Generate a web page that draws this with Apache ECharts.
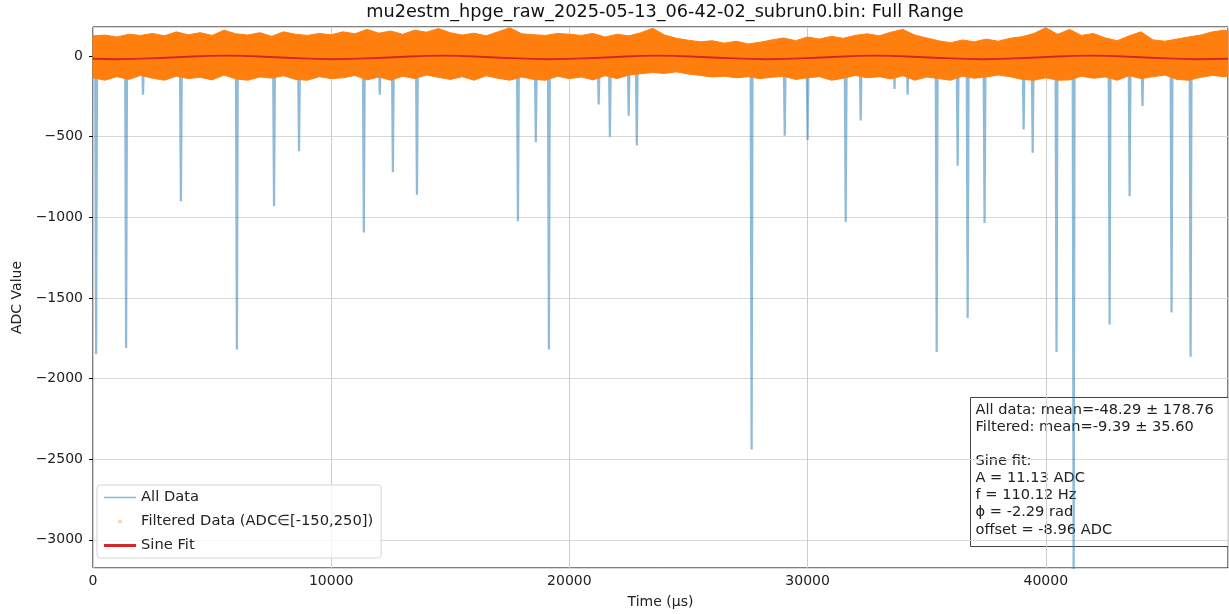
<!DOCTYPE html>
<html>
<head>
<meta charset="utf-8">
<script src="https://cdn.jsdelivr.net/npm/echarts@6/dist/echarts.min.js"></script>
<style>
  html, body { margin: 0; padding: 0; background: #fff; }
</style>
</head>
<body>
<div id="main" style="width: 1229px;height:614px;"></div>
<script>
// orange band (filtered data), envelope
const bandTime = [0, 500, 1000, 1500, 2000, 2500, 3000, 3500, 4000, 4500, 5000, 5500, 6000, 6500, 7000, 7500, 8000, 8500, 9000, 9500,
  10000, 10500, 11000, 11500, 12000, 12500, 13000, 13500, 14000, 14500, 15000, 15500, 16000, 16500, 17000, 17500, 18000, 18500, 19000, 19500,
  20000, 20500, 21000, 21500, 22000, 22500, 23000, 23500, 24000, 24500, 25000, 25500, 26000, 26500, 27000, 27500, 28000, 28500, 29000, 29500,
  30000, 30500, 31000, 31500, 32000, 32500, 33000, 33500, 34000, 34500, 35000, 35500, 36000, 36500, 37000, 37500, 38000, 38500, 39000, 39500,
  40000, 40500, 41000, 41500, 42000, 42500, 43000, 43500, 44000, 44500, 45000, 45500, 46000, 46500, 47000, 47500, 47650]
const bandUpper = [125, 130, 118, 135, 128, 140, 125, 150, 132, 145, 128, 160, 138, 130, 145, 122, 150, 135, 128, 140,
  132, 150, 138, 165, 142, 155, 135, 160, 148, 170, 145, 130, 142, 125, 150, 175, 138, 132, 128, 140,
  135, 128, 140, 118, 135, 125, 145, 172, 130, 110, 98, 88, 95, 80, 92, 75, 85, 100, 112, 95,
  118, 105, 122, 110, 128, 138, 125, 148, 165, 130, 112, 95, 82, 100, 88, 105, 92, 110, 120, 140,
  175, 135, 165, 128, 140, 112, 95, 125, 150, 100, 92, 105, 118, 130, 150, 160, 155]
const bandLower = [-135, -150, -128, -145, -120, -138, -150, -125, -140, -132, -148, -118, -142, -150, -130, -137, -122, -145, -150, -128,
  -140, -135, -120, -148, -130, -150, -125, -140, -118, -132, -145, -128, -150, -122, -138, -150, -130, -145, -150, -126,
  -140, -130, -148, -122, -140, -118, -110, -102, -108, -98, -112, -120, -130, -125, -135, -128, -140, -132, -126, -145,
  -135, -128, -150, -138, -120, -135, -128, -142, -122, -150, -130, -140, -150, -125, -138, -130, -118, -128, -145, -150,
  -135, -150, -148, -125, -138, -130, -150, -122, -140, -128, -118, -145, -150, -132, -120, -128, -125]

// blue spikes (all data)
const spikeTime = [130, 1390, 2100, 3690, 6040, 7600, 8650, 11370, 12040, 12590, 13600, 17840, 18590, 19140, 21230, 21700, 22490, 22830,
  27650, 29040, 30000, 31600, 32230, 33650, 34200, 35420, 36300, 36720, 37430, 39070, 39450, 40450, 41170, 42680, 43520, 44060, 45280, 46080]
const spikeDepth = [-1850, -1810, -240, -900, -1820, -930, -590, -1095, -240, -720, -860, -1025, -535, -1820, -300, -500, -370, -555,
  -2440, -495, -520, -1030, -400, -205, -240, -1835, -680, -1625, -1035, -455, -600, -1835, -3300, -1665, -870, -310, -1590, -1865]
const baseline = -9

// red sine fit, read at quarter periods
const sineTime = [0, 1000, 3300, 5600, 7900, 10100, 12400, 14700, 16900, 19200, 21500, 23700, 26000, 28300, 30600, 32800, 35100, 37400, 39600, 41900, 44200, 46400, 47650]
const sineValue = [-17, -20, -9, 2, -9, -20, -9, 2, -9, -20, -9, 2, -9, -20, -9, 2, -9, -20, -9, 2, -9, -20, -17]

const statLines = [
  'All data: mean=-48.29 ± 178.76',
  'Filtered: mean=-9.39 ± 35.60',
  '',
  'Sine fit:',
  'A = 11.13 ADC',
  'f = 110.12 Hz',
  'ϕ = -2.29 rad',
  'offset = -8.96 ADC'
]

const FONT = 'DejaVu Sans'
const filteredName = 'Filtered Data (ADC∈[-150,250])'

const allData = []
spikeTime.forEach((t, i) => {
  allData.push([t - 40, baseline])
  allData.push([t, spikeDepth[i]])
  allData.push([t + 40, baseline])
})
const bandData = bandTime.map((t, i) => [t, bandLower[i], bandUpper[i]])
const sineData = sineTime.map((t, i) => [t, sineValue[i]])

const minus = v => (v < 0 ? '\u2212' + Math.abs(v) : String(v))

// whole band drawn once as a polygon, upper edge forward, lower edge back
function renderBand (params, api) {
  if (params.dataIndex !== 0) return
  const top = bandData.map(d => api.coord([d[0], d[2]]))
  const bottom = bandData.map(d => api.coord([d[0], d[1]])).reverse()
  return {
    type: 'polygon',
    shape: { points: top.concat(bottom) },
    style: { fill: '#ff7f0e', stroke: '#ff7f0e', lineWidth: 1 }
  }
}

var myChart = echarts.init(document.getElementById('main'))
var option = {
  animation: false,
  textStyle: { fontFamily: FONT },
  grid: {
    left: 93,
    right: 1,
    top: 27,
    bottom: 46,
    show: true,
    borderColor: '#000',
    borderWidth: 1
  },
  legend: {
    left: 97,
    top: 485,
    orient: 'vertical',
    selectedMode: false,
    itemWidth: 32,
    itemHeight: 14,
    itemGap: 9,
    padding: [5, 8, 5, 7],
    backgroundColor: 'rgba(255,255,255,0.8)',
    borderColor: '#d5d5d5',
    borderWidth: 1,
    borderRadius: 3,
    textStyle: { fontFamily: FONT, fontSize: 14.7, color: '#222' },
    data: [
      { name: 'All Data', icon: 'path://M0 0 M0 6.2 L32 6.2 L32 7.8 L0 7.8 Z M32 14' },
      { name: filteredName, icon: 'path://M0 0 M14 7 A2 2 0 1 1 18 7 A2 2 0 1 1 14 7 Z M32 14', itemStyle: { opacity: 0.35 } },
      { name: 'Sine Fit', icon: 'path://M0 0 M0 5.5 L32 5.5 L32 8.5 L0 8.5 Z M32 14' }
    ]
  },
  xAxis: {
    type: 'value',
    min: 0,
    max: 47650,
    interval: 10000,
    name: 'Time (µs)',
    nameLocation: 'middle',
    nameGap: 27,
    nameTextStyle: { fontFamily: FONT, fontSize: 14, color: '#222' },
    axisLine: { show: false },
    axisTick: { show: true, length: 4, lineStyle: { color: '#000' } },
    axisLabel: {
      fontFamily: FONT,
      fontSize: 14,
      color: '#222',
      margin: 6,
      showMaxLabel: false,
      formatter: v => (v % 10000 === 0 ? String(v) : '')
    },
    splitLine: { show: true, lineStyle: { color: '#cdcdcd', width: 1 } }
  },
  yAxis: {
    type: 'value',
    min: -3175,
    max: 180,
    splitNumber: 7,
    name: 'ADC Value',
    nameLocation: 'middle',
    nameGap: 66,
    nameTextStyle: { fontFamily: FONT, fontSize: 14, color: '#222' },
    axisLine: { show: false },
    axisTick: { show: true, length: 4, lineStyle: { color: '#000' } },
    axisLabel: {
      fontFamily: FONT,
      fontSize: 14,
      color: '#222',
      margin: 10,
      showMinLabel: false,
      showMaxLabel: false,
      formatter: v => (v % 500 === 0 ? minus(v) : '')
    },
    splitLine: { show: true, lineStyle: { color: '#d8d8d8', width: 1 } }
  },
  series: [
    {
      name: 'All Data',
      type: 'line',
      symbol: 'none',
      z: 2,
      silent: true,
      color: 'rgba(31,119,180,0.5)',
      lineStyle: { color: 'rgba(31,119,180,0.5)', width: 2.2 },
      data: allData
    },
    {
      name: filteredName,
      type: 'custom',
      z: 3,
      silent: true,
      color: '#ff7f0e',
      renderItem: renderBand,
      encode: { x: 0, y: [1, 2] },
      data: bandData
    },
    {
      name: 'Sine Fit',
      type: 'line',
      symbol: 'none',
      smooth: true,
      z: 4,
      silent: true,
      color: '#d62728',
      lineStyle: { color: '#d62728', width: 1.8 },
      data: sineData
    }
  ],
  graphic: [
    {
      type: 'text',
      x: 665,
      y: 3,
      style: {
        text: 'mu2estm_hpge_raw_2025-05-13_06-42-02_subrun0.bin: Full Range',
        font: '17.7px DejaVu Sans',
        fill: '#111',
        textAlign: 'center'
      }
    },
    {
      type: 'group',
      left: 970,
      top: 397,
      z: 100,
      children: [
        {
          type: 'rect',
          shape: { x: 0, y: 0, width: 258, height: 149 },
          style: { fill: 'rgba(255,255,255,0.8)', stroke: '#444', lineWidth: 1 }
        },
        {
          type: 'text',
          x: 5,
          y: 4,
          style: {
            text: statLines.join('\n'),
            font: '14.6px DejaVu Sans',
            lineHeight: 17.1,
            fill: '#222'
          }
        }
      ]
    }
  ]
}
myChart.setOption(option)
</script>
</body>
</html>
